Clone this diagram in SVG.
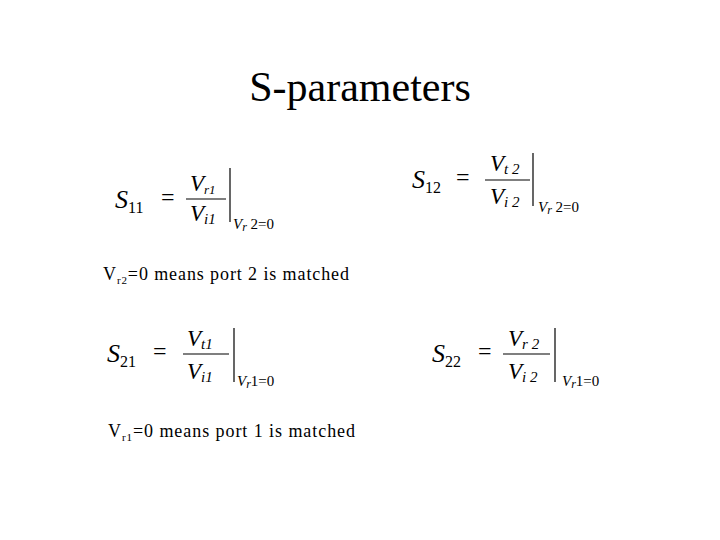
<svg xmlns="http://www.w3.org/2000/svg" width="720" height="540" viewBox="0 0 720 540">
<style>
.t{font-family:"Liberation Serif",serif;fill:#000}
.m{font-family:"Liberation Serif",serif;font-style:italic;fill:#000}
.S{font-size:26px}
.sub{font-size:16px;font-style:normal}
.eq{font-size:24px;font-style:normal}
.fr{font-size:23px}
.fs{font-size:15px}
.c{font-size:15px}
.ln{stroke:#000;stroke-width:1.2}
</style>
<rect width="720" height="540" fill="#fff"/>
<text class="t" x="360" y="101" font-size="42" text-anchor="middle">S-parameters</text>
<g id="s11" transform="translate(115,208)">
<text class="m S" x="0" y="0">S<tspan class="sub" dy="5">11</tspan></text>
<text class="m eq" x="46" y="-3">=</text>
<text class="m fr" x="75" y="-17" font-size="17">V<tspan font-size="13" dy="3">r1</tspan></text>
<line class="ln" x1="71" y1="-9" x2="111" y2="-9"/>
<text class="m fr" x="75" y="13">V<tspan class="fs" dy="3">i1</tspan></text>
<line class="ln" x1="115" y1="-40" x2="115" y2="14"/>
<text class="m c" x="118" y="21">V<tspan font-size="12" dy="2">r</tspan><tspan font-style="normal" dy="-2"> 2=0</tspan></text>
</g>
<g id="s12" transform="translate(412,188)">
<text class="m S" x="0" y="0">S<tspan class="sub" dy="5">12</tspan></text>
<text class="m eq" x="44" y="-3">=</text>
<text class="m fr" x="78" y="-17">V<tspan class="fs" dy="3">t 2</tspan></text>
<line class="ln" x1="73" y1="-8" x2="118" y2="-8"/>
<text class="m fr" x="78" y="16">V<tspan class="fs" dy="3">i 2</tspan></text>
<line class="ln" x1="121" y1="-35" x2="121" y2="18"/>
<text class="m c" x="126" y="24">V<tspan font-size="12" dy="2">r</tspan><tspan font-style="normal" dy="-2"> 2=0</tspan></text>
</g>
<text class="t" x="103" y="280" font-size="18" textLength="246" lengthAdjust="spacing">V<tspan font-size="11" dy="4">r2</tspan><tspan dy="-4">=0 means port 2 is matched</tspan></text>
<g id="s21" transform="translate(107,362)">
<text class="m S" x="0" y="0">S<tspan class="sub" dy="5">21</tspan></text>
<text class="m eq" x="46" y="-3">=</text>
<text class="m fr" x="80" y="-16">V<tspan class="fs" dy="3">t1</tspan></text>
<line class="ln" x1="76" y1="-8" x2="122" y2="-8"/>
<text class="m fr" x="80" y="17">V<tspan class="fs" dy="3">i1</tspan></text>
<line class="ln" x1="127" y1="-34" x2="127" y2="20"/>
<text class="m c" x="130" y="24">V<tspan font-size="12" dy="2">r</tspan><tspan font-style="normal" dy="-2">1=0</tspan></text>
</g>
<g id="s22" transform="translate(432,362)">
<text class="m S" x="0" y="0">S<tspan class="sub" dy="5">22</tspan></text>
<text class="m eq" x="46" y="-3">=</text>
<text class="m fr" x="76" y="-16">V<tspan class="fs" dy="3">r 2</tspan></text>
<line class="ln" x1="71" y1="-8" x2="118" y2="-8"/>
<text class="m fr" x="76" y="17">V<tspan class="fs" dy="3">i 2</tspan></text>
<line class="ln" x1="123" y1="-34" x2="123" y2="20"/>
<text class="m c" x="130" y="24">V<tspan font-size="12" dy="2">r</tspan><tspan font-style="normal" dy="-2">1=0</tspan></text>
</g>
<text class="t" x="108" y="437" font-size="18" textLength="247" lengthAdjust="spacing">V<tspan font-size="11" dy="4">r1</tspan><tspan dy="-4">=0 means port 1 is matched</tspan></text>
</svg>
